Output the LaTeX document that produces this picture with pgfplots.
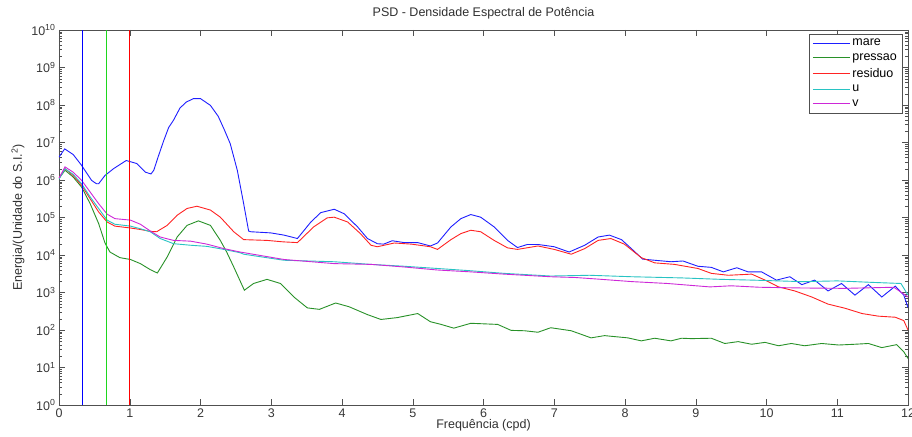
\documentclass[border=0pt]{standalone}
\usepackage{fontspec}
\setmainfont{Liberation Sans}
\usepackage{pgfplots}
\pgfplotsset{compat=1.18}
\definecolor{cmare}{RGB}{30,30,255}
\definecolor{cpres}{RGB}{40,145,40}
\definecolor{cresi}{RGB}{255,35,35}
\definecolor{cu}{RGB}{40,195,195}
\definecolor{cv}{RGB}{205,40,215}
\definecolor{vblue}{RGB}{0,0,255}
\definecolor{vgreen}{RGB}{30,215,30}
\definecolor{vred}{RGB}{255,0,0}
\definecolor{axgray}{RGB}{80,80,80}
\begin{document}
\begin{tikzpicture}
\path[use as bounding box] (-59pt,-31pt) rectangle (853pt,405pt);
\begin{axis}[
  at={(0pt,0pt)}, anchor=south west,
  scale only axis, width=849pt, height=375pt,
  font=\fontsize{12.5}{15}\selectfont,
  /pgf/number format/assume math mode=true,
  xmin=0, xmax=12, ymin=1, ymax=1e10,
  ymode=log,
  xtick={0,1,...,12},
  ytick={1,1e1,1e2,1e3,1e4,1e5,1e6,1e7,1e8,1e9,1e10},
  yticklabel={10\textsuperscript{\pgfmathparse{int(round(\tick/ln(10)))}\pgfmathresult}},
  tick align=inside,
  major tick length=6pt, minor tick length=3pt,
  axis line style={axgray},
  every tick/.style={axgray},
  tick label style={text=axgray!70!black},
  every axis title shift=0pt,
  title={PSD - Densidade Espectral de Potência},
  title style={at={(axis description cs:0.5,1.045)}, anchor=center, yshift=0pt, text=axgray!60!black},
  xlabel={Frequência (cpd)},
  xlabel style={at={(axis description cs:0.5,-0.053)}, anchor=center, yshift=0pt, text=axgray!60!black},
  ylabel={Energia/(Unidade do S.I.\textsuperscript{2})},
  ylabel style={at={(axis description cs:-0.0483,0.5)}, anchor=center, text=axgray!60!black},
  legend style={at={(axis description cs:0.993,0.99)}, anchor=north east,
    draw=axgray, fill=white, inner xsep=3pt, inner ysep=3pt, row sep=2.4pt,
    font=\fontsize{12.5}{15}\selectfont},
  legend cell align=left,
  legend image code/.code={\draw[#1] (0pt,0pt) -- (37pt,0pt);},
  every axis plot/.append style={line width=0.9pt},
]
% mare
\addplot[cmare] coordinates {
(0,4.07e6) (0.08,6.76e6) (0.2,4.79e6) (0.32,2.45e6) (0.46,9.77e5) (0.53,7.94e5) (0.56,7.94e5)
(0.65,1.32e6) (0.77,2.0e6) (0.95,3.31e6) (1.10,2.75e6) (1.22,1.62e6) (1.30,1.45e6) (1.34,1.82e6)
(1.40,4.07e6) (1.48,1.12e7) (1.55,2.51e7) (1.62,3.98e7) (1.71,8.32e7) (1.80,1.2e8) (1.90,1.48e8)
(2.0,1.48e8) (2.14,9.77e7) (2.25,5.01e7) (2.33,2.34e7) (2.42,9.33e6) (2.52,1.82e6) (2.61,2.34e5)
(2.68,4.37e4) (2.71,4.17e4) (2.99,3.89e4) (3.18,3.39e4) (3.37,2.75e4) (3.56,7.59e4) (3.70,1.35e5)
(3.89,1.66e5) (4.03,1.26e5) (4.22,5.62e4) (4.36,2.75e4) (4.50,2.0e4) (4.59,1.95e4) (4.71,2.4e4)
(4.88,2.14e4) (5.07,2.14e4) (5.25,1.74e4) (5.35,2.09e4) (5.54,5.62e4) (5.68,9.33e4) (5.82,1.2e5)
(5.96,1.02e5) (6.15,5.62e4) (6.34,2.45e4) (6.48,1.58e4) (6.62,1.91e4) (6.77,1.91e4) (7.00,1.66e4)
(7.21,1.2e4) (7.43,1.82e4) (7.62,3.02e4) (7.78,3.39e4) (7.95,2.57e4) (8.09,1.48e4) (8.25,7.76e3)
(8.42,7.24e3) (8.65,6.61e3) (8.82,6.92e3) (9.03,5.01e3) (9.22,4.68e3) (9.39,3.55e3) (9.58,4.57e3)
(9.74,3.55e3) (9.93,3.55e3) (10.14,2.14e3) (10.33,2.63e3) (10.50,1.62e3) (10.68,2.14e3) (10.87,1.1e3)
(11.06,1.74e3) (11.25,851) (11.44,1.62e3) (11.63,759) (11.82,1.48e3) (11.94,851) (12.0,398)
};
\addlegendentry{mare}
% pressao
\addplot[cpres] coordinates {
(0,1.1e6) (0.085,1.82e6) (0.20,1.2e6) (0.32,6.46e5) (0.44,2.34e5) (0.56,6.92e4) (0.65,2.09e4)
(0.72,1.2e4) (0.86,8.51e3) (1.01,7.59e3) (1.15,5.89e3) (1.29,4.07e3) (1.39,3.31e3) (1.53,8.91e3)
(1.67,3.02e4) (1.81,6.17e4) (1.97,8.13e4) (2.14,6.17e4) (2.28,2.45e4) (2.37,1.2e4) (2.47,4.79e3)
(2.62,1.15e3) (2.75,1.74e3) (2.94,2.24e3) (3.13,1.74e3) (3.32,759) (3.51,389) (3.68,355)
(3.91,525) (4.10,417) (4.36,257) (4.55,191) (4.78,214) (5.07,275) (5.25,166) (5.40,141)
(5.58,112) (5.82,151) (6.20,141) (6.39,97.7) (6.58,95.5) (6.77,87.1) (6.95,115) (7.24,95.5)
(7.52,61.7) (7.71,70.8) (8.04,61.7) (8.23,51.3) (8.42,60.3) (8.65,51.3) (8.80,60.3) (8.94,58.9)
(9.22,60.3) (9.41,43.7) (9.60,49.0) (9.79,41.7) (9.98,46.8) (10.17,38.0) (10.35,43.7) (10.54,38.0)
(10.78,43.7) (11.02,39.8) (11.25,41.7) (11.44,43.7) (11.63,33.9) (11.84,40.7) (11.94,26.3) (12.0,17.4)
};
\addlegendentry{pressao}
% residuo
\addplot[cresi] coordinates {
(0,1.12e6) (0.085,2.0e6) (0.20,1.32e6) (0.32,7.24e5) (0.44,3.16e5) (0.56,1.41e5) (0.68,7.59e4)
(0.79,5.89e4) (1.01,5.25e4) (1.15,4.79e4) (1.29,4.27e4) (1.38,4.17e4) (1.53,6.17e4) (1.67,1.15e5)
(1.81,1.74e5) (1.95,2.0e5) (2.14,1.58e5) (2.28,1.02e5) (2.47,4.17e4) (2.61,2.57e4) (2.94,2.45e4)
(3.17,2.24e4) (3.37,2.14e4) (3.60,5.62e4) (3.79,9.77e4) (3.89,1.02e5) (4.08,7.59e4) (4.26,3.72e4)
(4.41,1.82e4) (4.50,1.66e4) (4.74,2.09e4) (4.98,1.95e4) (5.25,1.66e4) (5.35,1.41e4) (5.54,2.57e4)
(5.68,3.72e4) (5.82,4.57e4) (5.96,4.17e4) (6.15,2.45e4) (6.34,1.55e4) (6.48,1.41e4) (6.77,1.74e4)
(7.00,1.41e4) (7.24,1.05e4) (7.43,1.48e4) (7.62,2.45e4) (7.80,2.75e4) (7.99,1.95e4) (8.23,8.51e3)
(8.42,6.17e3) (8.70,5.62e3) (9.03,4.37e3) (9.22,3.24e3) (9.46,2.88e3) (9.79,3.09e3) (9.98,2.14e3)
(10.17,1.41e3) (10.40,1.1e3) (10.64,759) (10.87,490) (11.11,380) (11.35,275) (11.58,234)
(11.82,219) (11.94,178) (12.0,100)
};
\addlegendentry{residuo}
% u
\addplot[cu] coordinates {
(0,1.05e6) (0.085,2.0e6) (0.20,1.41e6) (0.32,7.94e5) (0.44,3.55e5) (0.56,1.74e5) (0.68,8.51e4)
(0.79,6.61e4) (1.01,5.89e4) (1.15,5.01e4) (1.29,4.17e4) (1.43,2.75e4) (1.62,2.0e4) (1.86,1.82e4)
(2.09,1.7e4) (2.33,1.41e4) (2.56,1.15e4) (2.61,1.05e4) (3.18,7.24e3) (3.89,6.61e3) (4.41,5.62e3)
(4.88,5.01e3) (5.35,4.37e3) (5.82,3.8e3) (6.29,3.24e3) (6.95,2.75e3) (7.5,2.88e3) (8.1,2.63e3)
(8.8,2.45e3) (9.36,2.24e3) (9.8,2.14e3) (10.5,1.95e3) (11.0,2.04e3) (11.5,1.86e3) (11.9,1.74e3)
(12.0,851)
};
\addlegendentry{u}
% v
\addplot[cv] coordinates {
(0,1.12e6) (0.085,2.24e6) (0.20,1.62e6) (0.32,9.77e5) (0.44,4.79e5) (0.56,2.34e5) (0.68,1.23e5)
(0.79,9.33e4) (1.01,8.51e4) (1.15,6.61e4) (1.29,4.37e4) (1.43,3.02e4) (1.62,2.45e4) (1.86,2.34e4)
(2.09,1.95e4) (2.33,1.48e4) (2.56,1.2e4) (3.18,7.59e3) (3.89,5.89e3) (4.41,5.62e3) (4.88,4.79e3)
(5.35,3.98e3) (5.82,3.55e3) (6.29,3.09e3) (6.95,2.63e3) (7.3,2.51e3) (7.6,2.29e3) (8.1,1.95e3)
(8.6,1.74e3) (9.2,1.41e3) (9.5,1.51e3) (9.9,1.38e3) (10.5,1.32e3) (11.1,1.29e3) (11.8,1.38e3)
(12.0,759)
};
\addlegendentry{v}
% vertical lines
\addplot[vblue, forget plot] coordinates {(0.3333,1) (0.3333,1e10)};
\addplot[vgreen, forget plot] coordinates {(0.6667,1) (0.6667,1e10)};
\addplot[vred, forget plot] coordinates {(1,1) (1,1e10)};
\end{axis}
\end{tikzpicture}
\end{document}
